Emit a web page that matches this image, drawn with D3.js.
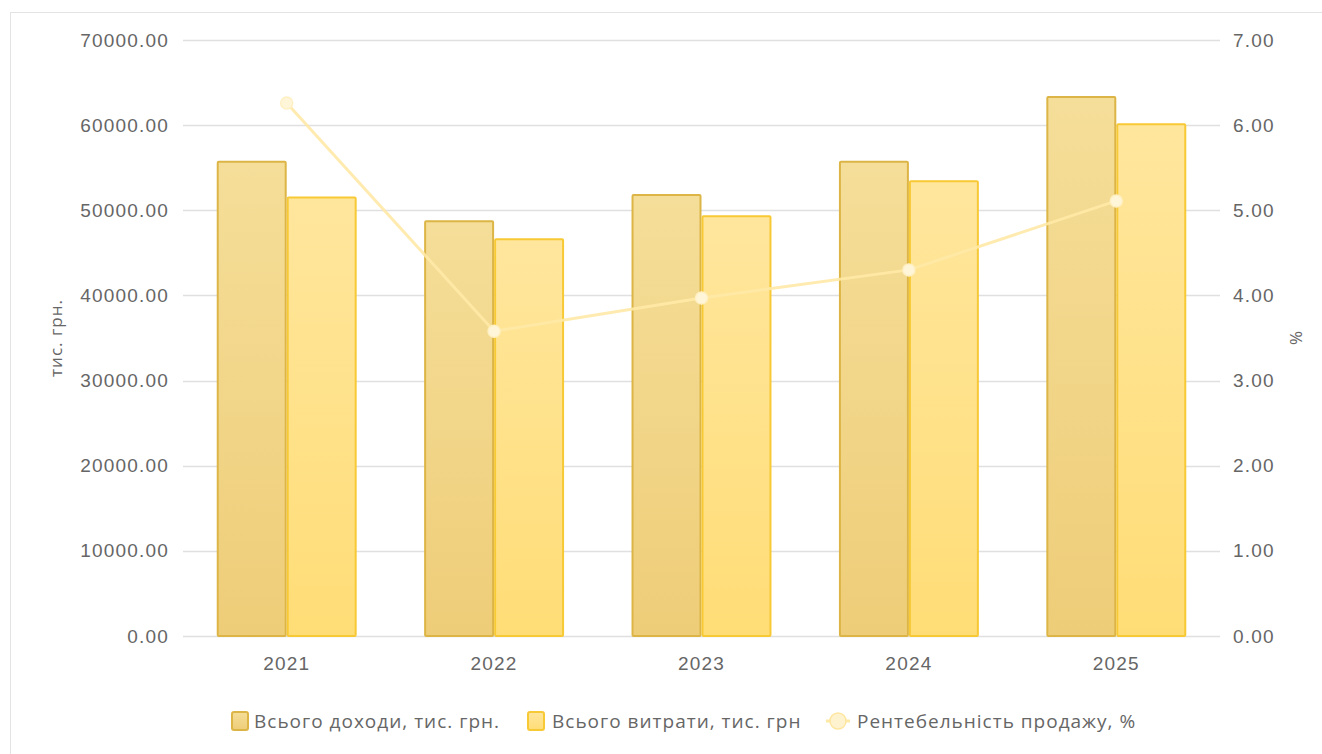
<!DOCTYPE html>
<html>
<head>
<meta charset="utf-8">
<script src="https://cdn.jsdelivr.net/npm/d3@7/dist/d3.min.js"></script>
<style>
  html, body { margin: 0; padding: 0; background: #fff; }
  svg { display: block; font-family: "Open Sans", "Noto Sans", sans-serif; }
</style>
</head>
<body>
<svg id="chart" width="1322" height="754"></svg>
<script>
// Years on the category axis
const years = ["2021", "2022", "2023", "2024", "2025"];
// Total income, thousand UAH
const income = [55700, 48700, 51800, 55700, 63300];
// Total expenses, thousand UAH
const expenses = [51500, 46600, 49300, 53400, 60100];
// Return on sales, %
const profitability = [6.26, 3.58, 3.97, 4.30, 5.11];
// Axis ticks
const leftTicks = [0, 10000, 20000, 30000, 40000, 50000, 60000, 70000];
const rightTicks = [0, 1, 2, 3, 4, 5, 6, 7];

const seriesNames = ["Всього доходи, тис. грн.", "Всього витрати, тис. грн", "Рентебельність продажу, %"];

const svg = d3.select("#chart");
const W = 1322, H = 754;
const plot = { left: 183, right: 1220, top: 40, bottom: 636 };
const textColor = "#666666";
const labelFont = "19px";

// Outer frame of the chart area
svg.append("rect")
  .attr("x", 10.5).attr("y", 12.5)
  .attr("width", W + 10).attr("height", H + 10)
  .attr("fill", "#fff").attr("stroke", "#e3e3e3").attr("stroke-width", 1);

const defs = svg.append("defs");
const g1 = defs.append("linearGradient").attr("id", "gIncome").attr("x1", 0).attr("y1", 0).attr("x2", 0).attr("y2", 1);
g1.append("stop").attr("offset", "0%").attr("stop-color", "#f5de99");
g1.append("stop").attr("offset", "100%").attr("stop-color", "#eecd78");
const g2 = defs.append("linearGradient").attr("id", "gExpense").attr("x1", 0).attr("y1", 0).attr("x2", 0).attr("y2", 1);
g2.append("stop").attr("offset", "0%").attr("stop-color", "#ffe69d");
g2.append("stop").attr("offset", "100%").attr("stop-color", "#ffdd76");
const glow = defs.append("filter").attr("id", "glow").attr("x", "-50%").attr("y", "-50%").attr("width", "200%").attr("height", "200%");
glow.append("feGaussianBlur").attr("stdDeviation", 0.6);

const x = d3.scaleBand().domain(years).range([plot.left, plot.right]).paddingInner(0).paddingOuter(0);
const yL = d3.scaleLinear().domain([0, 70000]).range([plot.bottom, plot.top]);
const yR = d3.scaleLinear().domain([0, 7]).range([plot.bottom, plot.top]);

const fmt = d3.format(".2f");

function styleAxisText(sel) {
  sel.attr("fill", textColor).style("font-size", labelFont).style("letter-spacing", "1.2px");
}

// Gridlines
svg.append("g").selectAll("line").data(leftTicks).join("line")
  .attr("x1", plot.left).attr("x2", plot.right)
  .attr("y1", d => Math.round(yL(d)) + 0.5).attr("y2", d => Math.round(yL(d)) + 0.5)
  .attr("stroke", "#e0e0e0").attr("stroke-width", 1.5);

// Left axis
const axL = svg.append("g").attr("transform", `translate(${plot.left},0)`)
  .call(d3.axisLeft(yL).tickValues(leftTicks).tickFormat(fmt).tickSize(0).tickPadding(14));
axL.select(".domain").remove();
styleAxisText(axL.selectAll("text"));

// Right axis
const axR = svg.append("g").attr("transform", `translate(${plot.right},0)`)
  .call(d3.axisRight(yR).tickValues(rightTicks).tickFormat(fmt).tickSize(0).tickPadding(13));
axR.select(".domain").remove();
styleAxisText(axR.selectAll("text"));

// Bottom axis
const axB = svg.append("g").attr("transform", `translate(0,${plot.bottom})`)
  .call(d3.axisBottom(x).tickSize(0).tickPadding(21));
axB.select(".domain").remove();
styleAxisText(axB.selectAll("text"));

// Axis titles
svg.append("text").attr("transform", `translate(62,${(plot.top + plot.bottom) / 2}) rotate(-90)`)
  .attr("text-anchor", "middle").attr("fill", textColor).style("font-size", "17px").style("letter-spacing", "1px").text("тис. грн.");
svg.append("text").attr("transform", `translate(1290,${(plot.top + plot.bottom) / 2}) rotate(90)`)
  .attr("text-anchor", "middle").attr("fill", textColor).style("font-size", "17px").text("%");

// Bars
const inner = d3.scaleBand().domain(["income", "expenses"]).range([0, x.bandwidth()]).paddingOuter(0.482).paddingInner(0);
const rows = years.map((yr, i) => ({ yr, income: income[i], expenses: expenses[i] }));
const barStyle = {
  income: { fill: "url(#gIncome)", stroke: "#dcb546" },
  expenses: { fill: "url(#gExpense)", stroke: "#f7c935" }
};
["income", "expenses"].forEach(key => {
  svg.append("g").selectAll("rect").data(rows).join("rect")
    .attr("x", d => x(d.yr) + inner(key) + 1)
    .attr("y", d => yL(d[key]))
    .attr("width", inner.bandwidth() - 2)
    .attr("height", d => plot.bottom - yL(d[key]))
    .attr("fill", barStyle[key].fill)
    .attr("stroke", barStyle[key].stroke)
    .attr("stroke-width", 2)
    .attr("rx", 1);
});

// Profitability line
const pts = years.map((yr, i) => ({ yr, v: profitability[i] }));
const line = d3.line().x(d => x(d.yr) + x.bandwidth() / 2).y(d => yR(d.v));
svg.append("path").datum(pts).attr("d", line)
  .attr("fill", "none").attr("stroke", "#ffe9a6").attr("stroke-width", 3).attr("opacity", 0.9);
svg.append("g").selectAll("circle").data(pts).join("circle")
  .attr("cx", d => x(d.yr) + x.bandwidth() / 2).attr("cy", d => yR(d.v)).attr("r", 6)
  .attr("fill", "#fff6d9").attr("stroke", "#fff0c4").attr("stroke-width", 1.5)
  .attr("filter", "url(#glow)");

// Legend
const legend = svg.append("g").attr("transform", "translate(0,721)");
const leg = [
  { x: 232, type: "bar", key: "income", tx: 254 },
  { x: 528, type: "bar", key: "expenses", tx: 552 },
  { x: 826, type: "line", tx: 857 }
];
leg.forEach((l, i) => {
  if (l.type === "bar") {
    legend.append("rect").attr("x", l.x).attr("y", -9).attr("width", 16).attr("height", 18).attr("rx", 2)
      .attr("fill", barStyle[l.key].fill).attr("stroke", barStyle[l.key].stroke).attr("stroke-width", 2);
  } else {
    legend.append("line").attr("x1", l.x).attr("x2", l.x + 24).attr("y1", 0).attr("y2", 0)
      .attr("stroke", "#ffe9a6").attr("stroke-width", 3);
    legend.append("circle").attr("cx", l.x + 12).attr("cy", 0).attr("r", 8)
      .attr("fill", "#fff3cf").attr("stroke", "#ffe6a0").attr("stroke-width", 1.5);
  }
  legend.append("text").attr("x", l.tx).attr("y", 0).attr("dy", "0.35em")
    .attr("fill", textColor).style("font-size", labelFont).style("letter-spacing", "1px").text(seriesNames[i]);
});
</script>
</body>
</html>
